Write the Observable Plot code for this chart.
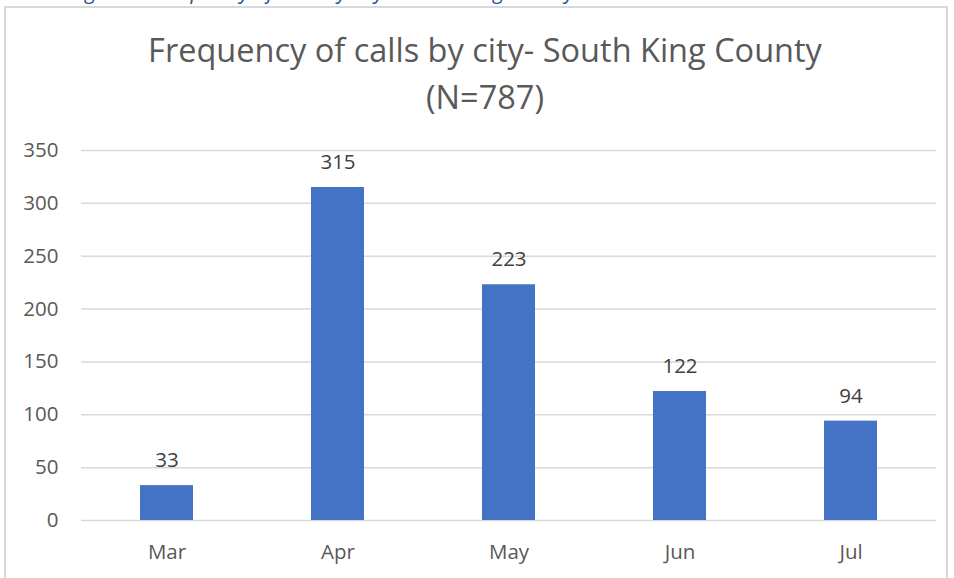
<!DOCTYPE html>
<html><head><meta charset="utf-8">
<script src="https://cdn.jsdelivr.net/npm/d3@7"></script>
<script src="https://cdn.jsdelivr.net/npm/@observablehq/plot@0.6"></script>
<style>
body{margin:0;background:#fff;width:954px;height:578px;overflow:hidden;position:relative;font-family:"Open Sans",sans-serif;}
#frame{position:absolute;left:4px;top:6px;width:944px;height:590px;border:2px solid #d9d9d9;box-sizing:border-box;}
#above{position:absolute;left:70px;top:-23px;font-style:italic;color:#2f5597;font-size:21px;white-space:nowrap;}
#title{position:absolute;left:0;width:970px;top:26px;text-align:center;color:#595959;font-size:32.5px;line-height:47px;}
#chart{position:absolute;left:0;top:0;}
</style></head>
<body>
<div id="above">Figure 2. Frequency of calls by city – South King County</div>
<div id="frame"></div>
<div id="chart"></div>
<div id="title">Frequency of calls by city- South King County<br>(N=787)</div>
<script>
const months = ["Mar","Apr","May","Jun","Jul"];
const calls = [33,315,223,122,94];
const yTicks = [0,50,100,150,200,250,300,350];
const data = months.map((m,i)=>({month:m, calls:calls[i]}));
const chart = Plot.plot({
  width:954, height:578,
  marginLeft:81, marginRight:18, marginTop:150, marginBottom:58,
  style:{fontFamily:"Open Sans, sans-serif", fontSize:"20.5px", color:"#595959", background:"transparent"},
  x:{domain:months, paddingInner:0.69, paddingOuter:0.345, label:null},
  y:{domain:[0,350], label:null},
  marks:[
    Plot.ruleY(yTicks,{stroke:"#d9d9d9", strokeWidth:1.5}),
    Plot.barY(data,{x:"month", y:"calls", fill:"#4472c4"}),
    Plot.text(data,{x:"month", y:"calls", text:d=>String(d.calls), dy:-25, fill:"#404040", fontSize:20.5}),
    Plot.axisY({ticks:yTicks, tickSize:0, tickPadding:23, fill:"#595959", fontSize:20.5}),
    Plot.axisX({tickSize:0, tickPadding:24, fill:"#595959", fontSize:20.5})
  ]
});
document.getElementById("chart").append(chart);
</script>
</body></html>
